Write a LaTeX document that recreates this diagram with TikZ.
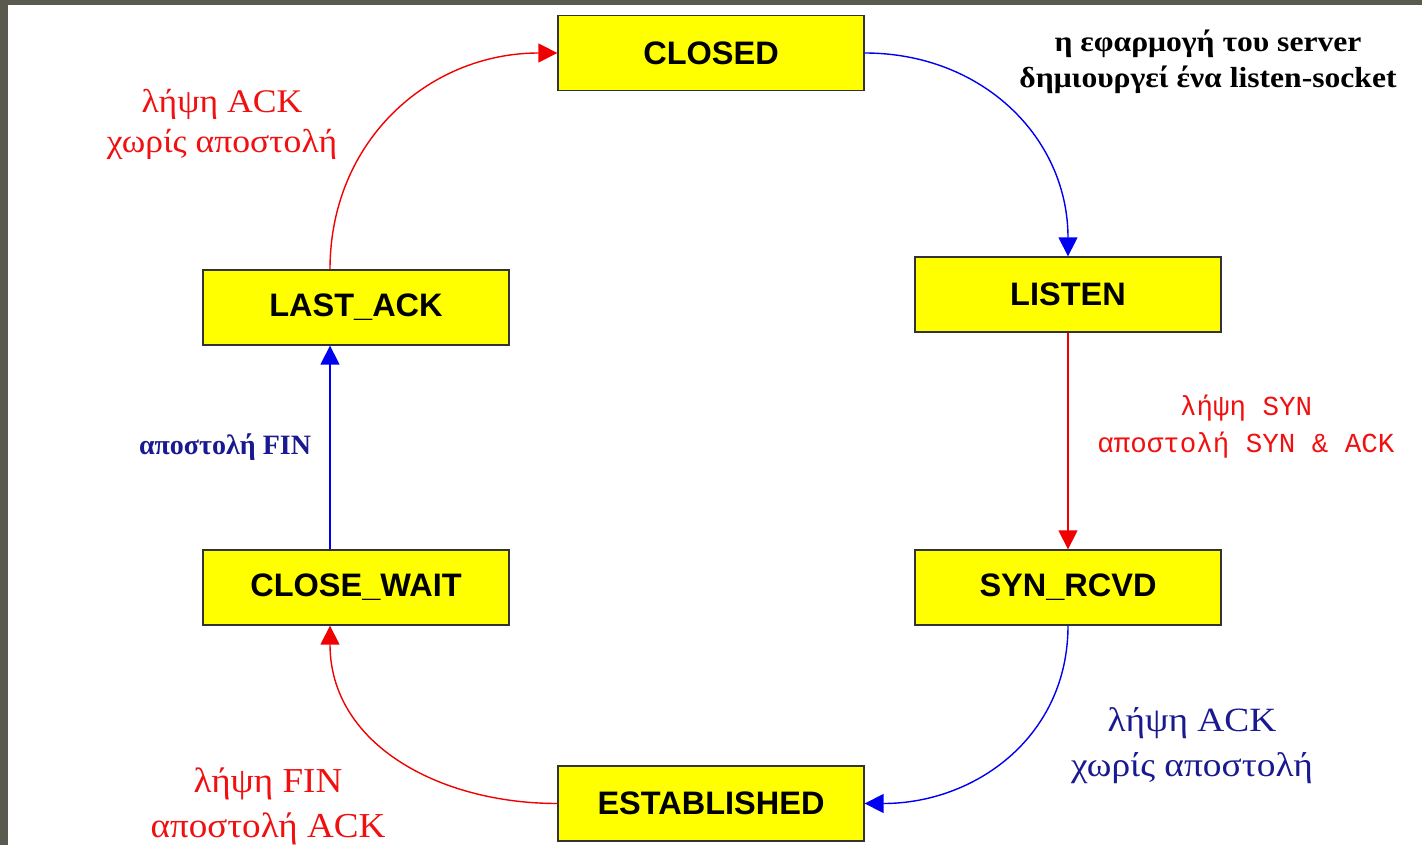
\documentclass[tikz,border=0pt]{standalone}
\usepackage{fontspec}
\setmainfont{Liberation Serif}
\newfontfamily\boxfont{Liberation Sans}
\newfontfamily\monofont{Liberation Mono}
\newfontfamily\wideA[FakeStretch=1.08]{Liberation Serif}
\newfontfamily\wideB[FakeStretch=1.10]{Liberation Serif}
\newfontfamily\wideC[FakeStretch=1.06]{Liberation Serif}
\newfontfamily\wideD[FakeStretch=1.09]{Liberation Serif}
\usetikzlibrary{arrows.meta}
\definecolor{frame}{HTML}{5A5A4E}
\definecolor{boxyellow}{HTML}{FFFF00}
\definecolor{boxline}{HTML}{333333}
\definecolor{lblred}{HTML}{F01010}
\definecolor{lblnavy}{HTML}{1A1A90}
\definecolor{arrred}{HTML}{F00000}
\definecolor{arrblue}{HTML}{0000F0}
\tikzset{
  state/.style={draw=boxline, line width=1.3pt, fill=boxyellow, minimum width=306pt, minimum height=75pt, inner sep=0pt, font=\boxfont\bfseries\fontsize{32.5}{36}\selectfont},
  conn/.style={line width=1.4pt, -{Triangle[length=19pt,width=19pt]}},
  redc/.style={conn, draw=arrred},
  bluec/.style={conn, draw=arrblue},
  lbl/.style={align=center, inner sep=0pt}
}
\begin{document}
\begin{tikzpicture}[x=1pt,y=-1pt]
\useasboundingbox (0,0) rectangle (1422,845);
\fill[frame] (0,0) rectangle (1422,845);
\fill[white] (8,5) rectangle (1422,845);

\node[state] (closed) at (711,53) {CLOSED};
\node[state] (listen) at (1068,294.5) {LISTEN};
\node[state] (synrcvd) at (1068,587.5) {SYN\_RCVD};
\node[state] (estab) at (711,803.5) {ESTABLISHED};
\node[state] (closewait) at (356,587.5) {CLOSE\_WAIT};
\node[state] (lastack) at (356,307.5) {LAST\_ACK};

\coordinate (cwb) at ([xshift=-26pt]closewait.south);
\coordinate (cwt) at ([xshift=-26pt]closewait.north);
\coordinate (lab) at ([xshift=-26pt]lastack.south);
\coordinate (lat) at ([xshift=-26pt]lastack.north);

\draw[bluec] (closed.east) to[out=0,in=90,looseness=1.05] (listen.north);
\draw[redc] (listen.south) -- (synrcvd.north);
\draw[bluec] (synrcvd.south) to[out=-90,in=0,looseness=1.05] (estab.east);
\draw[redc] (estab.west) to[out=180,in=-90,looseness=1.05] (cwb);
\draw[bluec] (cwt) -- (lab);
\draw[redc] (lat) to[out=90,in=180,looseness=1.05] (closed.west);

\node[lbl, font=\wideD\bfseries\fontsize{29}{36}\selectfont] (t1) at (1208,62) {η εφαρμογή του server\\δημιουργεί ένα listen-socket};
\node[lbl, text=lblred, font=\wideA\fontsize{33}{40}\selectfont] (t2) at (222,124) {λήψη ACK\\χωρίς αποστολή};
\node[lbl, text=lblred, font=\monofont\fontsize{27.5}{37}\selectfont] (t3) at (1246,427) {λήψη SYN\\αποστολή SYN \& ACK};
\node[lbl, text=lblnavy, font=\wideB\fontsize{34}{45}\selectfont] (t4) at (1192,746) {λήψη ACK\\χωρίς αποστολή};
\node[lbl, text=lblred, font=\wideC\fontsize{35}{45}\selectfont] (t5) at (268,806) {λήψη FIN\\αποστολή ACK};
\node[lbl, text=lblnavy, font=\bfseries\fontsize{28}{30}\selectfont] (t6) at (225,447) {αποστολή FIN};
\end{tikzpicture}
\end{document}
